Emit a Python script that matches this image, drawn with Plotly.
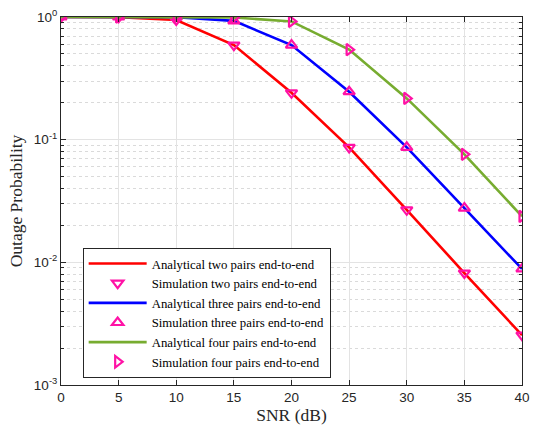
import plotly.graph_objects as go

snr_db = [0, 5, 10, 15, 20, 25, 30, 35, 40]

# Outage probability, end-to-end, for each number of relay pairs
outage_two = [1.0, 0.995, 0.945, 0.59, 0.241, 0.0866, 0.0268, 0.00818, 0.00255]
outage_three = [1.0, 1.0, 0.995, 0.93, 0.59, 0.246, 0.0866, 0.0277, 0.00883]
outage_four = [1.0, 1.0, 1.0, 0.99, 0.92, 0.542, 0.217, 0.076, 0.0237]

y_tick_vals = [1, 0.1, 0.01, 0.001]
y_tick_text = ["10<sup>0</sup>", "10<sup>-1</sup>", "10<sup>-2</sup>", "10<sup>-3</sup>"]
x_tick_vals = [0, 5, 10, 15, 20, 25, 30, 35, 40]

marker_color = "#FF12A6"
series = [
    ("two", outage_two, "#FF0000", "triangle-down-open"),
    ("three", outage_three, "#0000FF", "triangle-up-open"),
    ("four", outage_four, "#77AC30", "triangle-right-open"),
]

fig = go.Figure()
for name, vals, color, symbol in series:
    fig.add_trace(go.Scatter(
        x=snr_db, y=vals, mode="lines",
        line=dict(color=color, width=2.6),
        name=f"Analytical {name} pairs end-to-end",
    ))
    fig.add_trace(go.Scatter(
        x=snr_db, y=vals, mode="markers",
        marker=dict(symbol=symbol, color=marker_color, size=10,
                    line=dict(color=marker_color, width=2.2)),
        name=f"Simulation {name} pairs end-to-end",
    ))

serif = "Liberation Serif, Times New Roman, serif"
sans = "Liberation Sans, Arial, sans-serif"

axis_common = dict(
    showline=True, linecolor="#262626", linewidth=1, mirror="ticks",
    ticks="inside", ticklen=5, tickcolor="#262626",
    showgrid=True, gridcolor="#E3E3E3", gridwidth=1,
    zeroline=False,
    tickfont=dict(family=sans, size=13.5, color="#262626"),
)

fig.update_xaxes(
    **axis_common,
    range=[0, 40], tickvals=x_tick_vals,
    title=dict(text="SNR (dB)", font=dict(family=serif, size=17.5, color="#262626"), standoff=4),
)
fig.update_yaxes(
    **axis_common,
    type="log", range=[-3, 0],
    tickvals=y_tick_vals, ticktext=y_tick_text,
    minor=dict(ticks="inside", ticklen=3, tickcolor="#262626", showgrid=True,
               gridcolor="#DADADA", griddash="dot", dtick="D1"),
    title=dict(text="Outage Probability", font=dict(family=serif, size=17.5, color="#262626"),
               standoff=6),
)

fig.update_layout(
    width=537, height=434,
    margin=dict(l=61, r=7, t=15, b=49),
    plot_bgcolor="white", paper_bgcolor="white",
    legend=dict(
        x=0.047, y=0.373, xanchor="left", yanchor="top",
        bgcolor="white", bordercolor="#262626", borderwidth=1,
        font=dict(family=serif, size=12.8, color="#000000"),
        tracegroupgap=0, itemwidth=58,
        entrywidth=240, entrywidthmode="pixels",
    ),
)

fig.write_html("out.html")
